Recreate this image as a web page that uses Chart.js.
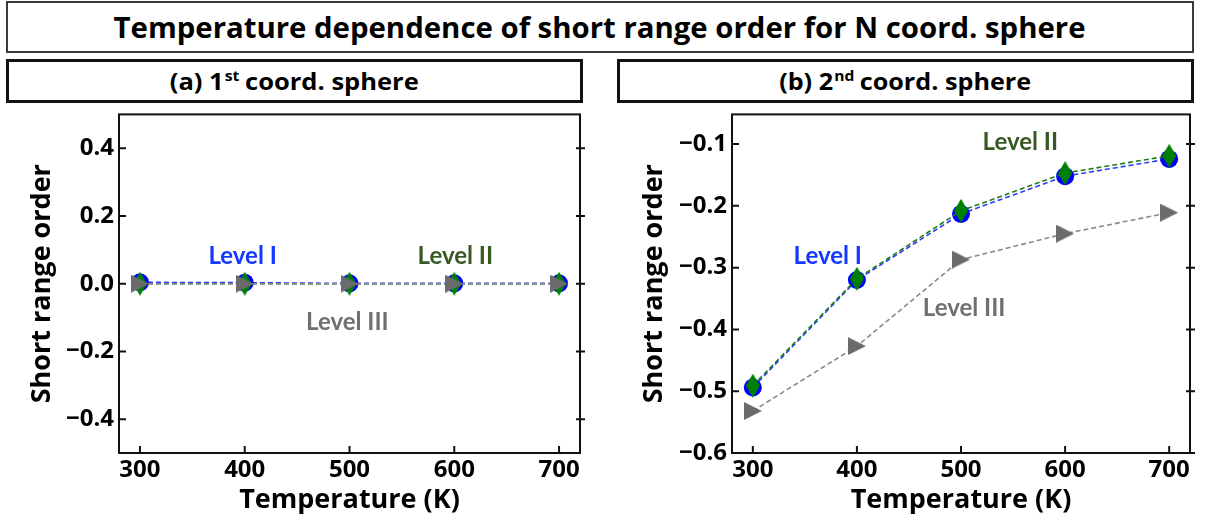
<!DOCTYPE html>
<html><head><meta charset="utf-8">
<script src="https://cdn.jsdelivr.net/npm/chart.js@4.4.1/dist/chart.umd.min.js"></script>
<style>
body{margin:0;width:1208px;height:519px;background:#fff;position:relative;overflow:hidden;font-family:"Open Sans",sans-serif;}
.box{position:absolute;box-sizing:border-box;display:flex;align-items:center;justify-content:center;font-weight:bold;color:#000;}
#title{left:6px;top:1px;width:1188px;height:52px;font-size:28px;border:2px solid #3a3a3a;}
#pa{left:6px;top:59px;width:577px;height:44px;font-size:23px;border:3px solid #111;}
#pb{left:617px;top:59px;width:577px;height:44px;font-size:23px;border:3px solid #111;}
.t{display:inline-block;white-space:nowrap}
sup{font-size:62%;vertical-align:super;line-height:0;margin-left:1px;margin-right:5px}
canvas{position:absolute}
</style></head><body>
<div class="box" id="title"><span class="t">Temperature dependence of short range order for N coord. sphere</span></div>
<div class="box" id="pa"><span class="t">(a) 1<sup>st</sup>coord. sphere</span></div>
<div class="box" id="pb"><span class="t">(b) 2<sup>nd</sup>coord. sphere</span></div>
<canvas id="c1" width="574" height="424" style="left:26px;top:95px"></canvas>
<canvas id="c2" width="570" height="424" style="left:638px;top:95px"></canvas>
<script>
const temperatures = [300, 400, 500, 600, 700];
const sro1LevelI   = [0.004, 0.003, 0.001, 0.001, 0.001];
const sro1LevelII  = [0.0, 0.0, 0.0, 0.0, 0.0];
const sro1LevelIII = [0.0, 0.0, 0.0, 0.0, 0.0];
const sro2LevelI   = [-0.494, -0.320, -0.213, -0.152, -0.124];
const sro2LevelII  = [-0.491, -0.318, -0.208, -0.147, -0.119];
const sro2LevelIII = [-0.532, -0.427, -0.287, -0.245, -0.211];
const xTicks  = [300, 400, 500, 600, 700];
const yTicks1 = [-0.4, -0.2, 0.0, 0.2, 0.4];
const yTicks2 = [-0.6, -0.5, -0.4, -0.3, -0.2, -0.1];
const seriesNames = ['Level I', 'Level II', 'Level III'];

const labels1 = [
  {text: 'Level I',   x: 398, y: 0.082,  color: '#1438ff'},
  {text: 'Level II',  x: 601, y: 0.082,  color: '#375a23'},
  {text: 'Level III', x: 498, y: -0.114, color: '#707070'}
];
const labels2 = [
  {text: 'Level I',   x: 372, y: -0.281, color: '#1438ff'},
  {text: 'Level II',  x: 557, y: -0.097, color: '#375a23'},
  {text: 'Level III', x: 503, y: -0.366, color: '#707070'}
];

// fit header texts to the widths seen in the reference
function fitText(id, w){
  const s = document.querySelector('#' + id + ' .t');
  const cur = s.getBoundingClientRect().width;
  s.style.transform = 'scaleX(' + (w / cur) + ')';
}
fitText('title', 972); fitText('pa', 249); fitText('pb', 252);

function diamond(){
  const c = document.createElement('canvas'); c.width = 14; c.height = 24;
  const g = c.getContext('2d'); g.fillStyle = '#008000';
  g.beginPath(); g.moveTo(7,0); g.lineTo(14,12); g.lineTo(7,24); g.lineTo(0,12); g.closePath(); g.fill();
  return c;
}
function triRight(){
  const c = document.createElement('canvas'); c.width = 18; c.height = 18;
  const g = c.getContext('2d'); g.fillStyle = '#6b6b6b';
  g.beginPath(); g.moveTo(0,0); g.lineTo(18,9); g.lineTo(0,18); g.closePath(); g.fill();
  return c;
}
const DIA = diamond(), TRI = triRight();

const framePlugin = {
  id: 'frame',
  afterDatasetsDraw(chart, args, opts){
    const ctx = chart.ctx, a = chart.chartArea, xs = chart.scales.x, ys = chart.scales.y;
    ctx.save();
    ctx.strokeStyle = '#111'; ctx.lineWidth = 2;
    ctx.strokeRect(a.left, a.top, a.right - a.left, a.bottom - a.top);
    ctx.beginPath();
    ys.ticks.forEach(t => {
      const py = ys.getPixelForValue(t.value);
      ctx.moveTo(a.left, py); ctx.lineTo(a.left + 7, py);
      ctx.moveTo(a.right - 4, py); ctx.lineTo(a.right + 5, py);
    });
    xs.ticks.forEach(t => {
      const px = xs.getPixelForValue(t.value);
      ctx.moveTo(px, a.bottom); ctx.lineTo(px, a.bottom - 7);
    });
    ctx.stroke();
    ctx.font = 'bold 24px Lato, "Open Sans", sans-serif';
    ctx.textAlign = 'center'; ctx.textBaseline = 'middle';
    (opts.items || []).forEach(l => {
      ctx.fillStyle = l.color;
      ctx.fillText(l.text, xs.getPixelForValue(l.x), ys.getPixelForValue(l.y));
    });
    ctx.restore();
  }
};

function fmt(v){ const s = Math.abs(v).toFixed(1); return (v < -1e-9 ? '\u2212' : '') + s; }

function makeChart(id, series, yMin, yMax, yTicks, axisW, padRight, items){
  const tickFont = {family: '"Open Sans", sans-serif', size: 24, weight: 'bold'};
  const titleFont = {family: '"Open Sans", sans-serif', size: 27, weight: 'bold'};
  const ds = (name, data, i) => {
    const st = [
      {c: '#0000ff', line: '#2b3cff', ps: 'circle', r: 9, order: 3},
      {c: '#008000', line: '#1f7a1f', ps: DIA, r: 9, order: 2},
      {c: '#6b6b6b', line: '#8a8a8a', ps: TRI, r: 9, order: 1}
    ][i];
    return {
      label: name,
      data: temperatures.map((t, k) => ({x: t, y: data[k]})),
      borderColor: st.line, backgroundColor: st.c, pointBackgroundColor: st.c,
      pointBorderColor: st.c, pointBorderWidth: 0,
      pointStyle: st.ps, pointRadius: st.r, pointHoverRadius: st.r,
      borderWidth: 1.6, borderDash: [5, 3], order: st.order, tension: 0
    };
  };
  return new Chart(document.getElementById(id), {
    type: 'line',
    data: {datasets: series.map((d, i) => ds(seriesNames[i], d, i))},
    options: {
      responsive: false, animation: false,
      layout: {padding: {top: 9, right: padRight, left: 0, bottom: 0}},
      plugins: {legend: {display: false}, tooltip: {enabled: false}, frame: {items}},
      scales: {
        x: {
          type: 'linear', min: 280, max: 720,
          afterBuildTicks: s => { s.ticks = xTicks.map(v => ({value: v})); },
          grid: {display: false, drawTicks: false},
          border: {display: false},
          ticks: {font: tickFont, color: '#000', padding: 3, callback: v => String(v), maxRotation: 0},
          title: {display: true, text: 'Temperature (K)', font: titleFont, color: '#000', padding: {top: 0, bottom: 2}},
          afterFit: s => { s.height = 66; }
        },
        y: {
          type: 'linear', min: yMin, max: yMax,
          afterBuildTicks: s => { s.ticks = yTicks.map(v => ({value: v})); },
          grid: {display: false, drawTicks: false},
          border: {display: false},
          ticks: {font: tickFont, color: '#000', padding: 5, callback: v => fmt(v)},
          title: {display: true, text: 'Short range order', font: titleFont, color: '#000', padding: 0},
          afterFit: s => { s.width = axisW; }
        }
      }
    },
    plugins: [framePlugin]
  });
}

makeChart('c1', [sro1LevelI, sro1LevelII, sro1LevelIII], -0.5, 0.5, yTicks1, 93, 20, labels1);
makeChart('c2', [sro2LevelI, sro2LevelII, sro2LevelIII], -0.6, -0.052, yTicks2, 94, 18, labels2);
</script>
</body></html>
